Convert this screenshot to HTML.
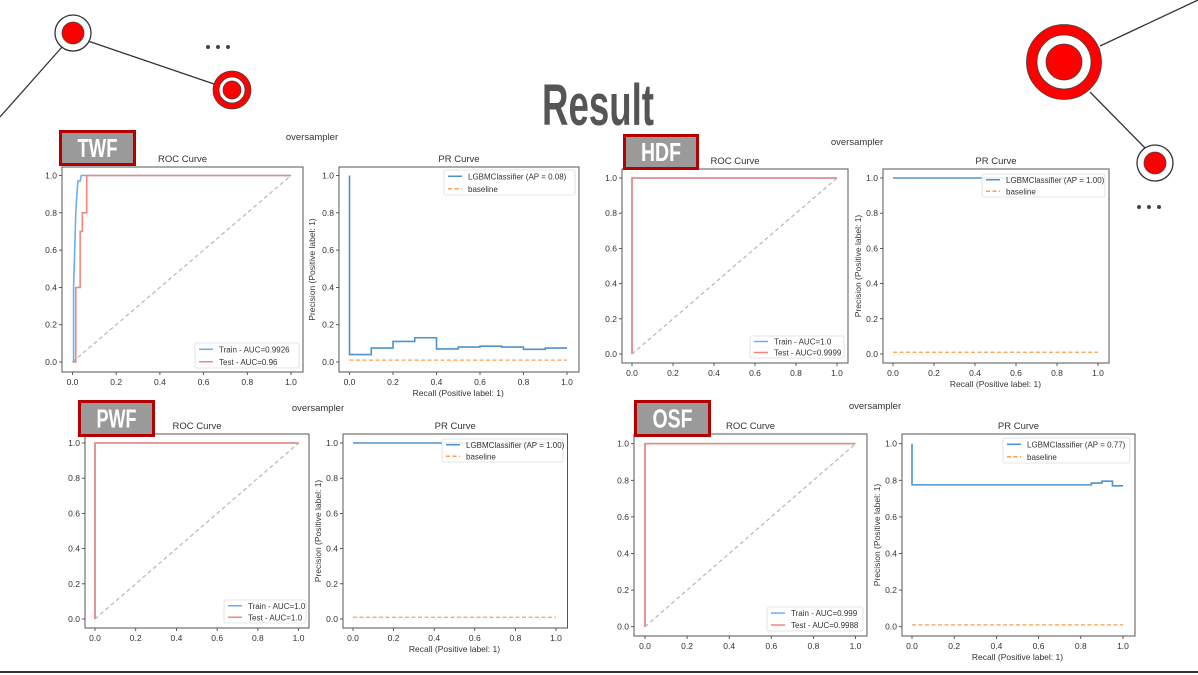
<!DOCTYPE html>
<html><head><meta charset="utf-8">
<style>
html,body{margin:0;padding:0;background:#fff;}
svg{display:block;font-family:"Liberation Sans",sans-serif;}
</style></head>
<body>
<svg id="s" width="1198" height="675" viewBox="0 0 1198 675">
<g stroke="#333" stroke-width="1.3">
  <line x1="0" y1="117" x2="62" y2="47"/>
  <line x1="88" y1="41" x2="214" y2="84"/>
  <line x1="1100" y1="46" x2="1198" y2="0"/>
  <line x1="1090" y1="92" x2="1147" y2="150"/>
  <circle cx="73" cy="33" r="18" fill="#fff"/>
  <circle cx="73" cy="33" r="11" fill="#f00" stroke="#444" stroke-width="0.8"/>
  <circle cx="232" cy="90" r="19" fill="#f00" stroke="#444" stroke-width="0.8"/>
  <circle cx="232" cy="90" r="13" fill="#fff" stroke="#444" stroke-width="0.8"/>
  <circle cx="232" cy="90" r="9" fill="#f00" stroke="#444" stroke-width="0.8"/>
  <circle cx="1064" cy="62" r="37.5" fill="#f00" stroke="#444" stroke-width="0.8"/>
  <circle cx="1064" cy="62" r="27" fill="#fff" stroke="#444" stroke-width="0.8"/>
  <circle cx="1064" cy="62" r="18" fill="#f00" stroke="#444" stroke-width="0.8"/>
  <circle cx="1155" cy="163" r="18" fill="#fff"/>
  <circle cx="1155" cy="163" r="11" fill="#f00" stroke="#444" stroke-width="0.8"/>
  <g fill="#444" stroke="none">
    <circle cx="208" cy="47" r="2"/><circle cx="218" cy="47" r="2"/><circle cx="228" cy="47" r="2"/>
    <circle cx="1139" cy="207" r="2"/><circle cx="1149" cy="207" r="2"/><circle cx="1159" cy="207" r="2"/>
  </g>
</g>
<text x="598" y="125" text-anchor="middle" font-family="Liberation Sans Narrow, Liberation Sans, sans-serif" font-weight="bold" font-size="58" fill="#555" textLength="112" lengthAdjust="spacingAndGlyphs">Result</text>
<line x1="0" y1="672" x2="1198" y2="672" stroke="#333" stroke-width="2"/>
<g id="panels"></g>
</svg>
<script>
// ---- data ----
const twfTrainFpr = [0,0.005,0.005,0.01,0.015,0.02,0.025,0.035,0.04,1];
const twfTrainTpr = [0,0,0.4,0.6,0.8,0.9,0.97,0.97,1,1];
const twfTestFpr = [0,0.015,0.015,0.035,0.035,0.045,0.045,0.065,0.065,1];
const twfTestTpr = [0,0,0.4,0.4,0.7,0.7,0.8,0.8,1,1];
const twfRecall = [0,0,0.1,0.2,0.3,0.4,0.5,0.6,0.7,0.8,0.9,1];
const twfPrecision = [1,0.04,0.075,0.11,0.13,0.07,0.08,0.085,0.08,0.068,0.075,0.075];
const perfectFpr = [0,0,1];
const perfectTpr = [0,1,1];
const perfectRecall = [0,1];
const perfectPrecision = [1,1];
const osfRecall = [0,0,0.85,0.9,0.95,1];
const osfPrecision = [1,0.775,0.785,0.795,0.77,0.77];
const baselineValue = 0.01;
const tickValues = [0,0.2,0.4,0.6,0.8,1.0];
const tickLabels = ["0.0","0.2","0.4","0.6","0.8","1.0"];
const panelNames = ["TWF","HDF","PWF","OSF"];
const rocLegends = [["Train - AUC=0.9926","Test - AUC=0.96"],["Train - AUC=1.0","Test - AUC=0.9999"],["Train - AUC=1.0","Test - AUC=1.0"],["Train - AUC=0.999","Test - AUC=0.9988"]];
const prLegends = ["LGBMClassifier (AP = 0.08)","LGBMClassifier (AP = 1.00)","LGBMClassifier (AP = 1.00)","LGBMClassifier (AP = 0.77)"];

const NS="http://www.w3.org/2000/svg";
const root=document.getElementById('panels');
function mk(tag,attrs,parent,txt){const e=document.createElementNS(NS,tag);for(const k in attrs)e.setAttribute(k,attrs[k]);if(txt!==undefined)e.textContent=txt;(parent||root).appendChild(e);return e;}

const geo=[
 {lab:[59,130,77,36],over:[312,140],roc:{box:[62,167,303,372],x0:72.5,x1:291,y1:175.5,y0:362,leg:[195,343,104,25]},pr:{box:[339,167,579,372],x0:349.5,x1:567,y1:175.5,y0:362,leg:[444,170,131,25],ylab:315}},
 {lab:[623,134,76,36],over:[857,145],roc:{box:[622,169,848,363],x0:632,x1:837,y1:178,y0:354,leg:[750,336,94,22]},pr:{box:[883,169,1109,363],x0:893,x1:1098,y1:178,y0:354,leg:[982,174,123,23],ylab:861}},
 {lab:[78,400,77,37],over:[318,411],roc:{box:[85,434,309,628],x0:95,x1:298.6,y1:443,y0:619,leg:[224,600,82,23]},pr:{box:[343,434,567.5,628],x0:353,x1:556,y1:443,y0:619,leg:[442,439,121,23],ylab:321}},
 {lab:[634,400,77,37],over:[875,409],roc:{box:[634,434,867,636],x0:645,x1:855.5,y1:443.7,y0:626.7,leg:[767,607,96,24]},pr:{box:[902,434,1135,636],x0:912,x1:1123,y1:443.7,y0:626.7,leg:[1003,438,127,25],ylab:880}}
];
const rocData=[[twfTrainFpr,twfTrainTpr,twfTestFpr,twfTestTpr],[perfectFpr,perfectTpr,perfectFpr,perfectTpr],[perfectFpr,perfectTpr,perfectFpr,perfectTpr],[perfectFpr,perfectTpr,perfectFpr,perfectTpr]];
const prData=[[twfRecall,twfPrecision],[perfectRecall,perfectPrecision],[perfectRecall,perfectPrecision],[osfRecall,osfPrecision]];

function axes(g,a,name){
  const sx=v=>a.x0+(a.x1-a.x0)*v, sy=v=>a.y0+(a.y1-a.y0)*v;
  const [l,t,r,b]=a.box;
  const ax=mk('g',{},g);
  
  
  tickValues.forEach((v,i)=>{
    mk('line',{x1:sx(v),y1:b,x2:sx(v),y2:b+3,stroke:'#333','stroke-width':0.8},ax);
    const tx=mk('text',{x:sx(v),y:b+13,'text-anchor':'middle','font-size':8.5,fill:'#333'},ax,tickLabels[i]);
    
    
    mk('line',{x1:l,y1:sy(v),x2:l-3,y2:sy(v),stroke:'#333','stroke-width':0.8},ax);
    const ty=mk('text',{x:l-5,y:sy(v)+3,'text-anchor':'end','font-size':8.5,fill:'#333'},ax,tickLabels[i]);
    
    
  });
  return {sx,sy};
}
function frame(g,a){const [l,t,r,b]=a.box;mk('rect',{x:l,y:t,width:r-l,height:b-t,fill:'none',stroke:'#555','stroke-width':1},g);}
function poly(g,xs,ys,s,attrs,step){
  let pts=[];
  for(let i=0;i<xs.length;i++){
    if(step&&i>0) pts.push(s.sx(xs[i])+','+s.sy(ys[i-1]));
    pts.push(s.sx(xs[i])+','+s.sy(ys[i]));
  }
  return mk('polyline',Object.assign({points:pts.join(' '),fill:'none'},attrs),g);
}
function legend(g,L,items){
  const [x,y,w,h]=L;
  mk('rect',{x,y,width:w,height:h,rx:2,fill:'#fff','fill-opacity':0.85,stroke:'#ddd','stroke-width':0.8},g);
  const dy=h/items.length;
  items.forEach((it,i)=>{
    const cy=y+dy*(i+0.5);
    mk('line',{x1:x+4,y1:cy,x2:x+18,y2:cy,stroke:it[1],'stroke-width':1.5,'stroke-dasharray':it[2]||'none'},g);
    const t=mk('text',{x:x+24,y:cy+3,'font-size':8,fill:'#333'},g,it[0]);
    
    
  });
}

geo.forEach((G,p)=>{
  const g=mk('g',{});
  
  
  const ov=mk('text',{x:G.over[0],y:G.over[1],'text-anchor':'middle','font-size':9.5,fill:'#333'},g,'oversampler');
  
  
  const R=G.roc, rs=axes(g,R,'roc');
  const rt=mk('text',{x:(R.box[0]+R.box[2])/2,y:R.box[1]-5,'text-anchor':'middle','font-size':9.5,fill:'#333'},g,'ROC Curve');
  
  
  const d=rocData[p];
  const diag=poly(g,[0,1],[0,1],rs,{stroke:'#bbb','stroke-width':1.3,'stroke-dasharray':'4,3'});
  
  
  const tr=poly(g,d[0],d[1],rs,{stroke:'#6aaef5','stroke-width':1.6});
  
  
  const te=poly(g,d[2],d[3],rs,{stroke:'#f4877a','stroke-width':1.6});
  
  
  frame(g,R);
  legend(g,R.leg,[[rocLegends[p][0],'#6aaef5'],[rocLegends[p][1],'#f4877a']]);
  const P=G.pr, ps=axes(g,P,'pr');
  const pt=mk('text',{x:(P.box[0]+P.box[2])/2,y:P.box[1]-5,'text-anchor':'middle','font-size':9.5,fill:'#333'},g,'PR Curve');
  
  
  const xl=mk('text',{x:(P.x0+P.x1)/2,y:P.box[3]+24,'text-anchor':'middle','font-size':8.5,fill:'#333'},g,'Recall (Positive label: 1)');
  
  
  const cyl=(P.box[1]+P.box[3])/2;
  const yl=mk('text',{x:P.ylab,y:cyl,'text-anchor':'middle','font-size':8.5,fill:'#333',transform:`rotate(-90 ${P.ylab} ${cyl})`},g,'Precision (Positive label: 1)');
  
  
  const bl=poly(g,[0,1],[baselineValue,baselineValue],ps,{stroke:'#ff9e4a','stroke-width':1.3,'stroke-dasharray':'4,2.5'});
  
  
  const pl=poly(g,prData[p][0],prData[p][1],ps,{stroke:'#4f93cc','stroke-width':1.6},true);
  
  
  frame(g,P);
  legend(g,P.leg,[[prLegends[p],'#4f93cc'],['baseline','#ff9e4a','4,2.5']]);
  const [lx,ly,lw,lh]=G.lab;
  const badge=mk('rect',{x:lx+1.5,y:ly+1.5,width:lw-3,height:lh-3,fill:'#9a9a9a',stroke:'#b40000','stroke-width':3},g);
  
  
  const bt=mk('text',{x:lx+lw/2,y:ly+lh/2+9,'text-anchor':'middle','font-family':'Liberation Sans Narrow, Liberation Sans, sans-serif','font-weight':'bold','font-size':26,fill:'#fff',textLength:40,lengthAdjust:'spacingAndGlyphs'},g,panelNames[p]);
  
  
});
</script>
</body></html>
